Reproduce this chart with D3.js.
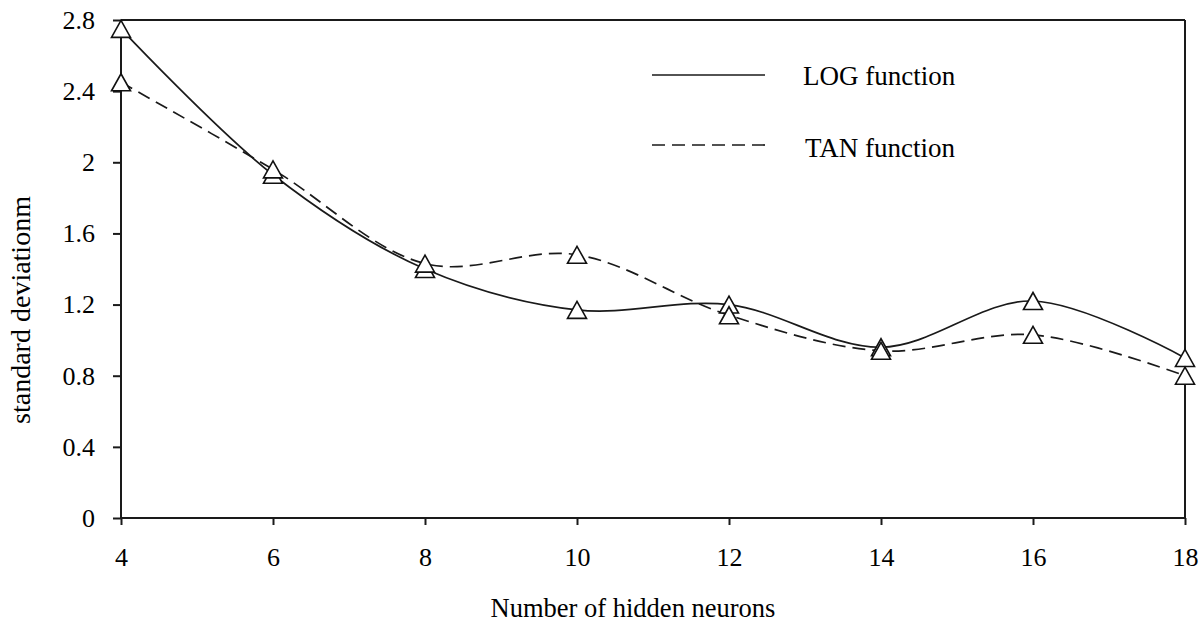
<!DOCTYPE html>
<html><head><meta charset="utf-8">
<script src="https://cdn.jsdelivr.net/npm/d3@7"></script>
<style>body{margin:0;background:#fff}svg{display:block}text{font-family:"Liberation Serif","Times New Roman",serif;fill:#000}</style>
</head><body><svg id="c" width="1204" height="623"></svg>
<script>
const neurons = [4, 6, 8, 10, 12, 14, 16, 18];
const logValues = [2.75, 1.93, 1.40, 1.17, 1.20, 0.96, 1.22, 0.90];
const tanValues = [2.45, 1.96, 1.43, 1.48, 1.14, 0.94, 1.03, 0.80];
const yTicks = [0, 0.4, 0.8, 1.2, 1.6, 2, 2.4, 2.8];
const xTicks = [4, 6, 8, 10, 12, 14, 16, 18];
const seriesNames = ["LOG function", "TAN function"];

const svg = d3.select("#c");
const L = 121, R = 1185, T = 20, B = 518;
const x = d3.scaleLinear().domain([4, 18]).range([L, R]);
const y = d3.scaleLinear().domain([0, 2.8]).range([B, T]);
const ink = "#1a1a1a";

// frame
svg.append("line").attr("x1", L).attr("x2", R).attr("y1", T).attr("y2", T).attr("stroke", ink).attr("stroke-width", 2);
svg.append("line").attr("x1", R).attr("x2", R).attr("y1", T).attr("y2", B).attr("stroke", ink).attr("stroke-width", 2);

const yAxis = svg.append("g").attr("transform", `translate(${L},0)`)
  .call(d3.axisLeft(y).tickValues(yTicks).tickSize(8).tickPadding(18).tickFormat(d => String(+d.toFixed(1))));
const xAxis = svg.append("g").attr("transform", `translate(0,${B})`)
  .call(d3.axisBottom(x).tickValues(xTicks).tickSize(7).tickPadding(23).tickFormat(d3.format("d")));
[yAxis, xAxis].forEach(g => {
  g.select(".domain").attr("stroke", ink).attr("stroke-width", 2);
  g.selectAll(".tick line").attr("stroke", ink).attr("stroke-width", 2);
  g.selectAll(".tick text").style("font-family", '"Liberation Serif",serif').attr("font-size", 26).attr("fill", "#000");
});
yAxis.select(".domain").attr("d", `M0,${T}V${B}`);
xAxis.select(".domain").attr("d", `M${L},0H${R}`);

const line = d3.line().x((d, i) => x(neurons[i])).y(d => y(d)).curve(d3.curveCatmullRom.alpha(0.5));
svg.append("path").datum(tanValues).attr("d", line).attr("fill", "none").attr("stroke", ink).attr("stroke-width", 1.7).attr("stroke-dasharray", "13,7");
svg.append("path").datum(logValues).attr("d", line).attr("fill", "none").attr("stroke", ink).attr("stroke-width", 1.7);

const triPath = "M0,-8.5L9.5,8.5L-9.5,8.5Z";
[logValues, tanValues].forEach(vals => {
  svg.append("g").selectAll("path").data(vals).join("path")
    .attr("d", triPath).attr("transform", (d, i) => `translate(${x(neurons[i])},${y(d)})`)
    .attr("fill", "#fff").attr("stroke", "#111").attr("stroke-width", 1.6);
});

// legend
const lg = svg.append("g");
lg.append("line").attr("x1", 652).attr("x2", 765).attr("y1", 75).attr("y2", 75).attr("stroke", ink).attr("stroke-width", 1.7);
lg.append("line").attr("x1", 652).attr("x2", 765).attr("y1", 145).attr("y2", 145).attr("stroke", ink).attr("stroke-width", 1.7).attr("stroke-dasharray", "13,7");
lg.append("text").attr("x", 803).attr("y", 85).attr("font-size", 27).text(seriesNames[0]);
lg.append("text").attr("x", 805).attr("y", 157).attr("font-size", 27).text(seriesNames[1]);

svg.append("text").attr("x", 633).attr("y", 617).attr("text-anchor", "middle").attr("font-size", 26.5).text("Number of hidden neurons");
svg.append("text").attr("transform", "translate(30,310) rotate(-90)").attr("text-anchor", "middle").attr("font-size", 28).text("standard deviationm");
</script></body></html>
